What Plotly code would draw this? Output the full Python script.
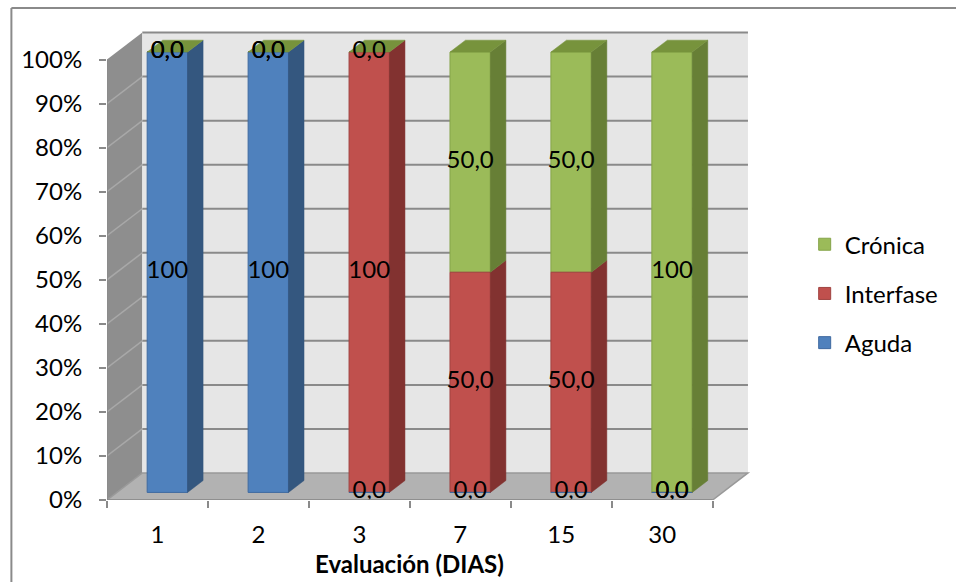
import plotly.graph_objects as go

# ---------------- data ----------------
categories = ["1", "2", "3", "7", "15", "30"]
aguda = [100, 100, 0, 0, 0, 0]
interfase = [0, 0, 100, 50, 50, 0]
cronica = [0, 0, 0, 50, 50, 100]
series_names = ["Aguda", "Interfase", "Crónica"]
y_ticks = [0, 10, 20, 30, 40, 50, 60, 70, 80, 90, 100]
y_tick_labels = ["0%", "10%", "20%", "30%", "40%", "50%", "60%", "70%", "80%", "90%", "100%"]
x_title = "Evaluación (DIAS)"

# ---------------- style ----------------
front_colors = ["#4f81bd", "#c0504d", "#9bbb59"]
edge_colors = ["#3f6aa0", "#a04340", "#86a44a"]
side_colors = ["#34577f", "#823230", "#677f36"]
top_color = "#77933c"
FONT = "Lato"
FS = 24

series = [aguda, interfase, cronica]
n = len(categories)

# pseudo-3D geometry (in axis units)
DX, DY = 0.35, 6.14          # full depth offset
Z0, Z1 = 0.28, 0.72          # bar depth span
BAR_W = 0.4
off_x, off_y = Z0 * DX, Z0 * DY
ddx, ddy = (Z1 - Z0) * DX, (Z1 - Z0) * DY

def fmt(v):
    return f"{v:.0f}" if v >= 100 else f"{v:.1f}".replace(".", ",")

fig = go.Figure()

xc = [i + 0.5 + off_x for i in range(n)]
cum = [0.0] * n
bases_all = []
for vals in series:
    bases_all.append([off_y + c for c in cum])
    cum = [c + v for c, v in zip(cum, vals)]

# front faces (added top series first so the legend lists Crónica first)
for s in reversed(range(len(series))):
    fig.add_trace(go.Bar(
        x=xc, y=series[s], base=bases_all[s], width=BAR_W, name=series_names[s],
        marker=dict(color=front_colors[s], line=dict(color=edge_colors[s], width=1)),
        legendgroup=series_names[s], hoverinfo="skip",
    ))

# side faces
for s, vals in enumerate(series):
    px, py = [], []
    for i in range(n):
        if vals[i] <= 0:
            continue
        xr = xc[i] + BAR_W / 2
        y0 = bases_all[s][i]
        y1 = y0 + vals[i]
        px += [xr, xr + ddx, xr + ddx, xr, xr, None]
        py += [y0, y0 + ddy, y1 + ddy, y1, y0, None]
    fig.add_trace(go.Scatter(x=px, y=py, mode="lines", fill="toself",
                             fillcolor=side_colors[s], line=dict(width=0.5, color=side_colors[s]),
                             showlegend=False, hoverinfo="skip"))

# top faces (colored by the top series of the stack)
px, py = [], []
for i in range(n):
    xl, xr = xc[i] - BAR_W / 2, xc[i] + BAR_W / 2
    yt = off_y + cum[i]
    px += [xl, xr, xr + ddx, xl + ddx, xl, None]
    py += [yt, yt, yt + ddy, yt + ddy, yt, None]
fig.add_trace(go.Scatter(x=px, y=py, mode="lines", fill="toself", fillcolor=top_color,
                         line=dict(width=0.5, color=top_color), showlegend=False, hoverinfo="skip"))

# data labels
for s, vals in enumerate(series):
    fig.add_trace(go.Scatter(
        x=xc, y=[b + v / 2 for b, v in zip(bases_all[s], vals)],
        mode="text", text=[fmt(v) for v in vals], textposition="middle center",
        textfont=dict(family=FONT, size=FS, color="black"),
        showlegend=False, hoverinfo="skip"))

# walls, floor, gridlines
ytop = y_ticks[-1]
shapes = []
# outer frame (only top and left edges fall inside the picture)
shapes.append(dict(type="line", layer="below", xref="paper", yref="paper",
                   x0=-0.148, x1=1.6, y0=1.049, y1=1.049,
                   line=dict(color="#8a8a8a", width=2)))
shapes.append(dict(type="line", layer="below", xref="paper", yref="paper",
                   x0=-0.148, x1=-0.148, y0=-0.3, y1=1.049,
                   line=dict(color="#8a8a8a", width=2)))
shapes.append(dict(type="path", layer="below", xref="x", yref="y",
                   path=f"M0,0 L{DX},{DY} L{DX},{ytop + DY} L0,{ytop} Z",
                   fillcolor="#8e8e8e", line=dict(width=0)))
shapes.append(dict(type="rect", layer="below", xref="x", yref="y",
                   x0=DX, x1=n + DX, y0=DY, y1=ytop + DY,
                   fillcolor="#e6e6e6", line=dict(width=0)))
shapes.append(dict(type="path", layer="below", xref="x", yref="y",
                   path=f"M0,0 L{n},0 L{n + DX},{DY} L{DX},{DY} Z",
                   fillcolor="#b2b2b2", line=dict(color="#999999", width=1.5)))
for v in y_ticks[1:]:
    shapes.append(dict(type="line", layer="below", xref="x", yref="y",
                       x0=DX, x1=n + DX, y0=v + DY, y1=v + DY,
                       line=dict(color="#8a8a8a", width=2)))
    if v < ytop:
        shapes.append(dict(type="line", layer="below", xref="x", yref="y",
                           x0=0, x1=DX, y0=v, y1=v + DY,
                           line=dict(color="#a8a8a8", width=1.5)))
# axis lines
shapes.append(dict(type="line", xref="x", yref="y", x0=0, x1=0, y0=0, y1=ytop,
                   line=dict(color="#8a8a8a", width=1.5)))
shapes.append(dict(type="line", xref="x", yref="y", x0=0, x1=n, y0=0, y1=0,
                   line=dict(color="#8a8a8a", width=1.5)))

fig.update_layout(
    width=956, height=582,
    margin=dict(l=107, r=193, t=31, b=82),
    paper_bgcolor="white", plot_bgcolor="white",
    barmode="overlay",
    shapes=shapes,
    font=dict(family=FONT, size=FS, color="black"),
    legend=dict(x=1.08, y=0.44, xanchor="left", yanchor="middle",
                traceorder="grouped", tracegroupgap=15,
                font=dict(family=FONT, size=FS, color="black"),
                bgcolor="rgba(0,0,0,0)"),
    xaxis=dict(range=[0, 6.4], showgrid=False, zeroline=False, showline=False,
               tickvals=[i + 0.5 for i in range(n)], ticktext=categories,
               ticks="", ticklabelstandoff=18,
               minor=dict(tickvals=list(range(n + 1)), ticks="outside", ticklen=7,
                          tickcolor="#8a8a8a", tickwidth=2, showgrid=False),
               tickfont=dict(family=FONT, size=FS, color="black"), fixedrange=True),
    yaxis=dict(range=[0, 106.5], showgrid=False, zeroline=False, showline=False,
               tickvals=y_ticks, ticktext=y_tick_labels, ticks="outside", ticklen=7,
               tickcolor="#8a8a8a", tickwidth=2, ticklabelstandoff=12,
               tickfont=dict(family=FONT, size=FS, color="black"), fixedrange=True),
    annotations=[dict(text=f"<b>{x_title}</b>", x=n / 2, xref="x", y=(500 - 563) / 469, yref="paper",
                      xanchor="center", yanchor="middle", showarrow=False,
                      font=dict(family=FONT, size=FS, color="black"))],
)

fig.write_html("out.html", config={"displayModeBar": False},
               post_script=("document.body.style.margin='0';document.body.style.padding='0';"
                            "document.body.style.overflow='hidden';"
                            "document.documentElement.style.overflow='hidden';"))
